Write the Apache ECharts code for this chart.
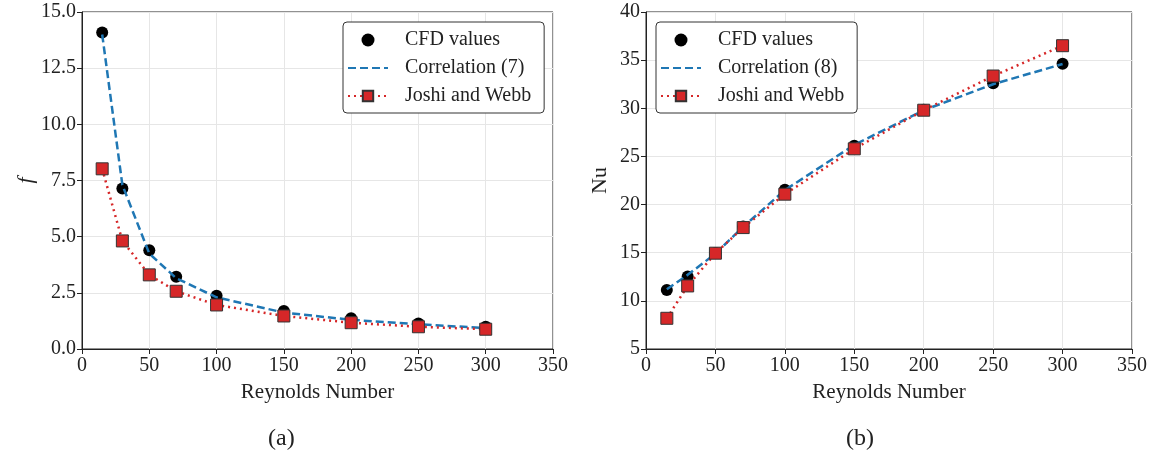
<!DOCTYPE html>
<html><head><meta charset="utf-8">
<script src="https://cdn.jsdelivr.net/npm/echarts@6/dist/echarts.min.js"></script>
<style>html,body{margin:0;padding:0;background:#fff}#c{width:1152px;height:464px}</style>
</head><body><div id="c"></div>
<script>
const reynolds = [15, 30, 50, 70, 100, 150, 200, 250, 300];
const fCFD = [14.09, 7.14, 4.40, 3.22, 2.37, 1.69, 1.37, 1.14, 0.99];
const fCorr = [14.0, 7.3, 4.25, 3.15, 2.3, 1.62, 1.3, 1.1, 0.93];
const fJoshi = [8.02, 4.81, 3.30, 2.57, 1.96, 1.47, 1.17, 0.99, 0.88];
const nuCFD = [11.13, 12.52, 14.98, 17.71, 21.53, 26.1, 29.84, 32.6, 34.63];
const nuCorr = [11.2, 12.7, 14.9, 17.7, 21.5, 26.2, 29.8, 32.5, 34.6];
const nuJoshi = [8.19, 11.55, 14.95, 17.61, 21.08, 25.79, 29.8, 33.35, 36.5];
const xTicks = [0, 50, 100, 150, 200, 250, 300, 350];
const captions = ['(a)', '(b)'];

const FONT = 'Liberation Serif';
const pts = ys => reynolds.map((x, i) => [x, ys[i]]);

function xAx(gi) {
  return {
    type: 'value', gridIndex: gi, min: xTicks[0], max: xTicks[xTicks.length - 1], interval: 50,
    name: 'Reynolds Number', nameLocation: 'middle', nameGap: 33,
    nameTextStyle: {fontFamily: FONT, fontSize: 21, color: '#222'},
    axisLine: {show: true, lineStyle: {color: '#222', width: 1}},
    axisTick: {show: true, inside: false, length: 5, lineStyle: {color: '#222'}},
    axisLabel: {fontFamily: FONT, fontSize: 20, color: '#222', margin: 7},
    splitLine: {show: true, lineStyle: {color: '#e6e6e6', width: 1}}
  };
}
function yAx(gi, min, max, interval, name, italic, gap, dec) {
  return {
    type: 'value', gridIndex: gi, min, max, interval,
    name, nameLocation: 'middle', nameGap: gap, nameRotate: 90,
    nameTextStyle: {fontFamily: FONT, fontSize: 22, color: '#222', fontStyle: italic ? 'italic' : 'normal'},
    axisLine: {show: true, lineStyle: {color: '#222', width: 1}},
    axisTick: {show: true, inside: false, length: 5, lineStyle: {color: '#222'}},
    axisLabel: {fontFamily: FONT, fontSize: 20, color: '#222', margin: 6,
      formatter: v => dec ? v.toFixed(1) : String(v)},
    splitLine: {show: true, lineStyle: {color: '#e6e6e6', width: 1}}
  };
}
function cfd(gi, data) {
  return {type: 'scatter', name: 'CFD values', xAxisIndex: gi, yAxisIndex: gi, data: pts(data),
    symbol: 'circle', symbolSize: 12, itemStyle: {color: '#000', opacity: 1}, z: 2};
}
function corr(gi, name, data) {
  return {type: 'line', name, xAxisIndex: gi, yAxisIndex: gi, data: pts(data),
    symbol: 'none', lineStyle: {color: '#1f77b4', width: 2.5, type: [8, 4]},
    itemStyle: {color: '#1f77b4'}, z: 3};
}
function joshi(gi, data) {
  return {type: 'line', name: 'Joshi and Webb', xAxisIndex: gi, yAxisIndex: gi, data: pts(data),
    symbol: 'rect', symbolSize: 12, showSymbol: true,
    lineStyle: {color: '#d62728', width: 2.5, type: [2, 4]},
    itemStyle: {color: '#d62728', borderColor: '#333', borderWidth: 1}, z: 4};
}
function legend(left, corrName) {
  return {
    show: true, orient: 'vertical', left, top: 22,
    data: [
      {name: 'CFD values'},
      {name: corrName, itemStyle: {color: 'rgba(0,0,0,0)', borderWidth: 0, opacity: 0}},
      {name: 'Joshi and Webb'}
    ],
    itemWidth: 40, itemHeight: 13, itemGap: 8,
    padding: [8, 13, 7, 4],
    backgroundColor: '#fff', borderColor: '#333', borderWidth: 1, borderRadius: 4,
    textStyle: {fontFamily: FONT, fontSize: 20, color: '#222', padding: [0, 0, 0, 12]},
    selectedMode: false
  };
}

const chart = echarts.init(document.getElementById('c'), null, {renderer: 'canvas'});
chart.setOption({
  backgroundColor: '#fff',
  animation: false,
  grid: [
    {left: 82, top: 12, width: 471, height: 337, show: true, borderColor: '#222', borderWidth: 1, backgroundColor: 'transparent'},
    {left: 646, top: 12, width: 486, height: 337, show: true, borderColor: '#222', borderWidth: 1, backgroundColor: 'transparent'}
  ],
  xAxis: [xAx(0), xAx(1)],
  yAxis: [yAx(0, 0, 15, 2.5, 'f', true, 45, true), yAx(1, 5, 40, 5, 'Nu', false, 35, false)],
  legend: [legend(343, 'Correlation (7)'), legend(656, 'Correlation (8)')],
  series: [
    cfd(0, fCFD), corr(0, 'Correlation (7)', fCorr), joshi(0, fJoshi),
    cfd(1, nuCFD), corr(1, 'Correlation (8)', nuCorr), joshi(1, nuJoshi)
  ],
  graphic: [
    {type: 'text', left: 268, top: 427, style: {text: captions[0], font: '24px "Liberation Serif"', fill: '#222'}},
    {type: 'text', left: 846, top: 427, style: {text: captions[1], font: '24px "Liberation Serif"', fill: '#222'}}
  ]
});
</script></body></html>
